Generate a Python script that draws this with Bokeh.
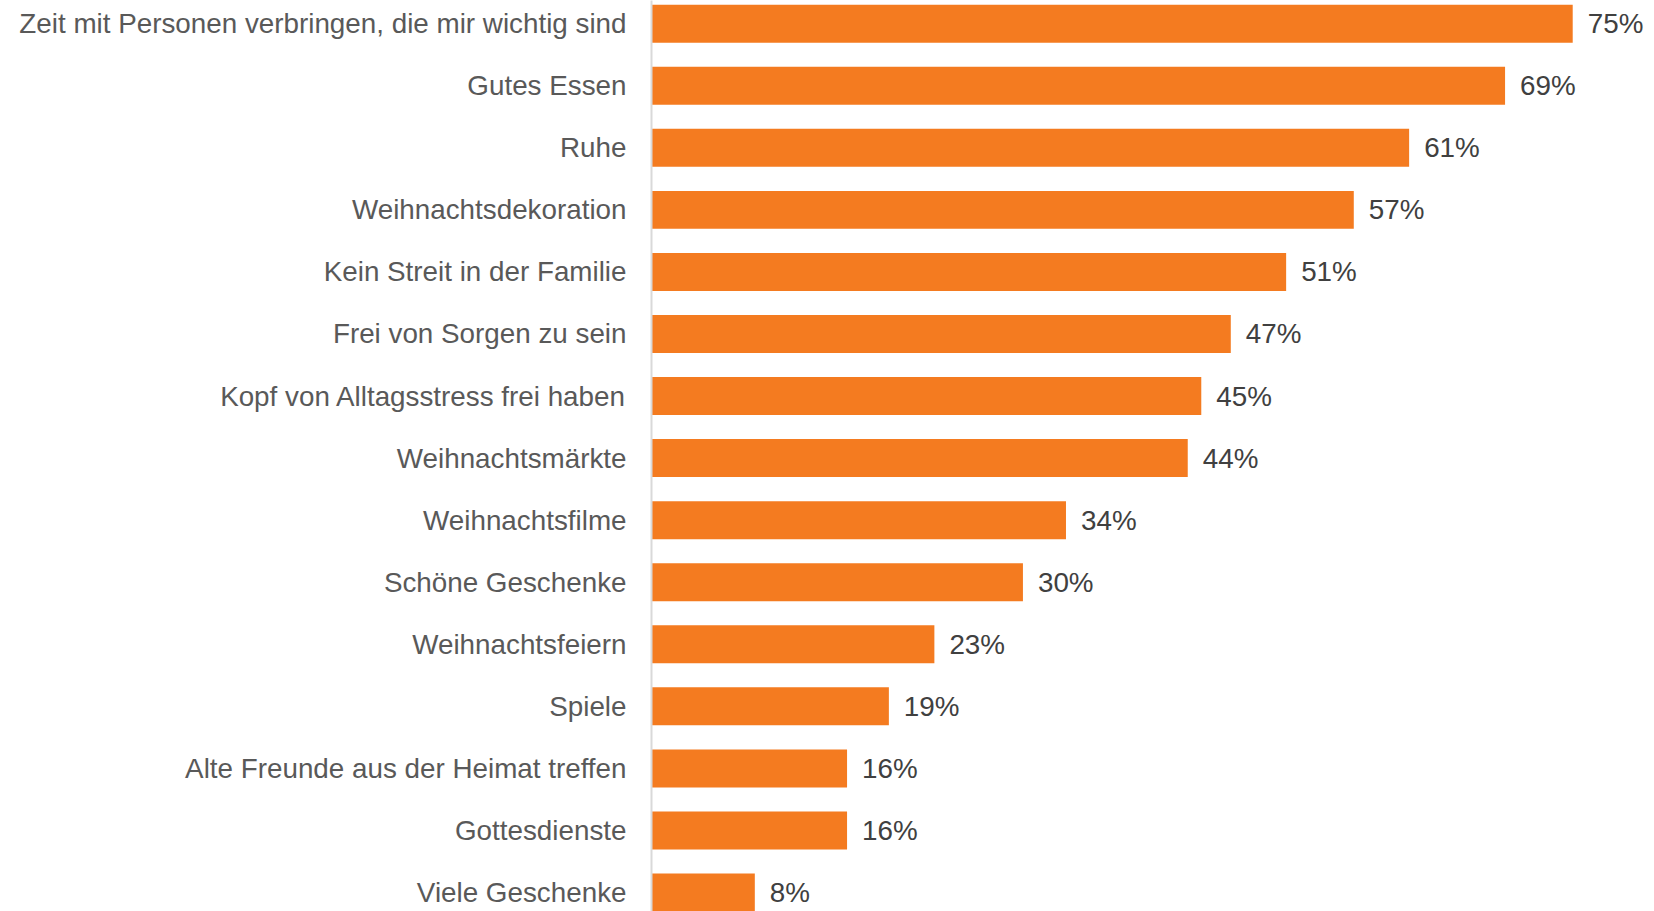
from bokeh.plotting import figure
from bokeh.models import Range1d, FixedTicker, ColumnDataSource
from bokeh.core.properties import value
from bokeh.embed import file_html
from bokeh.resources import INLINE

categories = [
    "Zeit mit Personen verbringen, die mir wichtig sind",
    "Gutes Essen",
    "Ruhe",
    "Weihnachtsdekoration",
    "Kein Streit in der Familie",
    "Frei von Sorgen zu sein",
    "Kopf von Alltagsstress frei haben",
    "Weihnachtsmärkte",
    "Weihnachtsfilme",
    "Schöne Geschenke",
    "Weihnachtsfeiern",
    "Spiele",
    "Alte Freunde aus der Heimat treffen",
    "Gottesdienste",
    "Viele Geschenke",
]
# bar lengths (percent)
values = [74.9, 69.4, 61.6, 57.1, 51.6, 47.1, 44.7, 43.6, 33.7, 30.2, 23.0, 19.3, 15.9, 15.9, 8.4]
# value labels as printed
labels = ["75%", "69%", "61%", "57%", "51%", "47%", "45%", "44%", "34%", "30%",
          "23%", "19%", "16%", "16%", "8%"]

n = len(categories)
pos = list(range(n))
src = ColumnDataSource(dict(y=pos, v=values, lab=labels))

p = figure(
    width=1654, height=911,
    x_range=Range1d(0, 81.55),
    y_range=Range1d(n - 1 + 0.306, -0.374),
    output_backend="svg", toolbar_location=None,
    min_border_left=651, min_border_right=0, min_border_top=0, min_border_bottom=0,
    x_axis_location=None,
)
p.outline_line_color = None
p.grid.visible = False
p.background_fill_color = "white"
p.border_fill_color = "white"

p.hbar(y="y", right="v", left=0, height=0.612, source=src,
       fill_color="#F47B20", line_color=None)

p.text(x="v", y="y", text="lab", source=src, x_offset=15,
       text_align="left", text_baseline="middle",
       text_font=value("Liberation Sans"), text_font_size="27.8px",
       text_color="#404040")

ax = p.yaxis[0]
ax.ticker = FixedTicker(ticks=pos)
ax.major_label_overrides = {i: c for i, c in enumerate(categories)}
ax.major_tick_line_color = None
ax.minor_tick_line_color = None
ax.axis_line_color = "#D9D9D9"
ax.axis_line_width = 2
ax.major_label_standoff = 19
ax.major_label_text_font = "Liberation Sans"
ax.major_label_text_font_size = "27.8px"
ax.major_label_text_color = "#595959"

open("out.html", "w").write(file_html(p, INLINE))
